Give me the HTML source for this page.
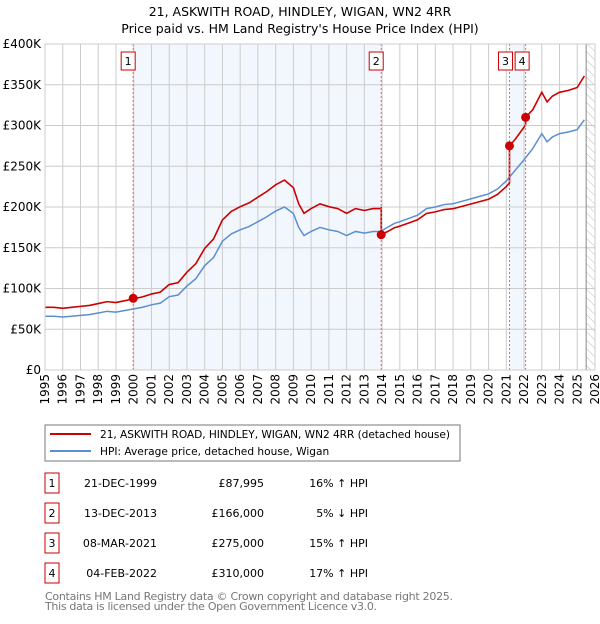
<!DOCTYPE html>
<html><head><meta charset="utf-8"><style>
body{margin:0;background:#fff;font-family:"DejaVu Sans","Liberation Sans",sans-serif;}
svg text{font-family:"DejaVu Sans","Liberation Sans",sans-serif;}
</style></head><body>
<svg id="c" width="600" height="620" xmlns="http://www.w3.org/2000/svg">
<defs><pattern id="hatch" width="6" height="6" patternUnits="userSpaceOnUse" patternTransform="rotate(-45)"><line x1="0" y1="0" x2="0" y2="6" stroke="#bbb" stroke-width="1"/></pattern></defs>
<text x="300" y="16" text-anchor="middle" font-size="12.5">21, ASKWITH ROAD, HINDLEY, WIGAN, WN2 4RR</text>
<text x="300" y="33" text-anchor="middle" font-size="12.5">Price paid vs. HM Land Registry's House Price Index (HPI)</text>
<g id="plot"></g>
<rect x="45" y="425" width="415" height="36" fill="#fff" stroke="#777"/>
<line x1="50" y1="434" x2="91" y2="434" stroke="#cc0000" stroke-width="2"/>
<text x="100" y="438" font-size="10.6" textLength="350">21, ASKWITH ROAD, HINDLEY, WIGAN, WN2 4RR (detached house)</text>
<line x1="50" y1="451" x2="91" y2="451" stroke="#5b8fd0" stroke-width="2"/>
<text x="100" y="455" font-size="10.6">HPI: Average price, detached house, Wigan</text>
<g id="table" font-size="11"></g>
<text x="45" y="600" font-size="11" fill="#777" textLength="408">Contains HM Land Registry data © Crown copyright and database right 2025.</text>
<text x="45" y="610" font-size="11" fill="#777" textLength="332">This data is licensed under the Open Government Licence v3.0.</text>
</svg>
<script>
const hpiYears=[1995,1995.5,1996,1996.5,1997,1997.5,1998,1998.5,1999,1999.5,2000,2000.5,2001,2001.5,2002,2002.5,2003,2003.5,2004,2004.5,2005,2005.5,2006,2006.5,2007,2007.5,2008,2008.5,2009,2009.3,2009.6,2010,2010.5,2011,2011.5,2012,2012.5,2013,2013.5,2013.9,2014.3,2014.7,2015,2015.5,2016,2016.5,2017,2017.5,2018,2018.5,2019,2019.5,2020,2020.5,2021,2021.5,2022,2022.5,2023,2023.3,2023.6,2024,2024.5,2025,2025.4];
const hpiValues=[66,66,65,66,67,68,70,72,71,73,75,77,80,82,90,92,103,112,128,138,158,167,172,176,182,188,195,200,192,175,165,170,175,172,170,165,170,168,170,170,175,180,182,186,190,198,200,203,204,207,210,213,216,222,232,245,258,272,290,280,286,290,292,295,307];
const saleYears=[1999.97,2013.95,2021.18,2022.09];
const salePrices=[87.995,166,275,310];
const saleLabels=["1","2","3","4"];
const saleDates=["21-DEC-1999","13-DEC-2013","08-MAR-2021","04-FEB-2022"];
const salePriceText=["£87,995","£166,000","£275,000","£310,000"];
const saleDiffs=["16% ↑ HPI","5% ↓ HPI","15% ↑ HPI","17% ↑ HPI"];
const segFactors=[1.165,0.97,1.155,1.175];
const yTicks=[0,50,100,150,200,250,300,350,400];
const yTickLabels=["£0","£50K","£100K","£150K","£200K","£250K","£300K","£350K","£400K"];
const xTicks=[1995,1996,1997,1998,1999,2000,2001,2002,2003,2004,2005,2006,2007,2008,2009,2010,2011,2012,2013,2014,2015,2016,2017,2018,2019,2020,2021,2022,2023,2024,2025,2026];

const X0=45,X1=595,Y0=370,Y1=44;
const x=y=>X0+(y-1995)/(2026-1995)*(X1-X0);
const yv=v=>Y0-v/400*(Y0-Y1);
const NS="http://www.w3.org/2000/svg";
const P=document.getElementById('plot');
function mk(t,a,parent){const e=document.createElementNS(NS,t);for(const k in a)e.setAttribute(k,a[k]);(parent||P).appendChild(e);return e;}

let e=mk('rect',{x:X0,y:Y1,width:X1-X0,height:Y0-Y1,fill:'#fff'});


e=mk('rect',{x:x(saleYears[0]),y:Y1,width:x(saleYears[1])-x(saleYears[0]),height:Y0-Y1,fill:'#f2f6fd'});


e=mk('rect',{x:x(saleYears[2]),y:Y1,width:x(saleYears[3])-x(saleYears[2]),height:Y0-Y1,fill:'#f2f6fd'});


e=mk('rect',{x:x(2025.5),y:Y1,width:X1-x(2025.5),height:Y0-Y1,fill:'url(#hatch)'});


xTicks.forEach((t,i)=>{
  e=mk('line',{x1:x(t),x2:x(t),y1:Y1,y2:Y0,stroke:'#ccc','stroke-width':1});
  
  
  e=mk('text',{x:0,y:0,'font-size':12,'text-anchor':'end',transform:`translate(${x(t)+4},${Y0+4}) rotate(-90)`});
  e.textContent=t;
  
  
});
yTicks.forEach((t,i)=>{
  e=mk('line',{x1:X0,x2:X1,y1:yv(t),y2:yv(t),stroke:'#ccc','stroke-width':1});
  
  
  e=mk('text',{x:X0-4,y:yv(t)+4,'font-size':12,'text-anchor':'end'});
  e.textContent=yTickLabels[i];
  
  
});
e=mk('line',{x1:x(2025.5),x2:x(2025.5),y1:Y1,y2:Y0,stroke:'#888','stroke-width':1});



function hpiAt(t){for(let i=1;i<hpiYears.length;i++){if(t<=hpiYears[i]){const f=(t-hpiYears[i-1])/(hpiYears[i]-hpiYears[i-1]);return hpiValues[i-1]+f*(hpiValues[i]-hpiValues[i-1]);}}return hpiValues[hpiValues.length-1];}
let pts=[];
const seg=t=>{let s=-1;for(let i=0;i<saleYears.length;i++)if(t>=saleYears[i])s=i;return s;};
const times=hpiYears.concat(saleYears).sort((a,b)=>a-b);
times.forEach(t=>{
  const s=Math.max(0,seg(t));
  const f=segFactors[s];
  if(saleYears.includes(t)){
    const i=saleYears.indexOf(t);
    const prev=i>0?segFactors[i-1]:segFactors[0];
    pts.push([x(t),yv(hpiAt(t)*prev)]);
    pts.push([x(t),yv(salePrices[i])]);
  } else pts.push([x(t),yv(hpiAt(t)*f)]);
});
e=mk('polyline',{points:hpiYears.map((t,i)=>x(t)+','+yv(hpiValues[i])).join(' '),fill:'none',stroke:'#5b8fd0','stroke-width':1.5});


e=mk('polyline',{points:pts.map(p=>p.join(',')).join(' '),fill:'none',stroke:'#cc0000','stroke-width':1.6});


saleYears.forEach((t,i)=>{
  e=mk('line',{x1:x(t),x2:x(t),y1:Y1,y2:Y0,stroke:'#e66','stroke-width':1,'stroke-dasharray':'2,2'});
  
  
  e=mk('circle',{cx:x(t),cy:yv(salePrices[i]),r:4.5,fill:'#cc0000'});
  
  
  const lx=i===3?x(t)-10.5:i===2?x(t)-11:x(t)-12;
  e=mk('rect',{x:lx,y:52,width:14,height:18,fill:'#fff',stroke:'#cc0000'});
  
  
  e=mk('text',{x:lx+7,y:65,'font-size':11,'text-anchor':'middle'});
  e.textContent=saleLabels[i];
  
  
});
e=mk('rect',{x:X0,y:Y1,width:X1-X0,height:Y0-Y1,fill:'none',stroke:'#ccc'});



const T=document.getElementById('table');
saleLabels.forEach((l,i)=>{
  const cy=483+i*30;
  e=mk('rect',{x:45,y:cy-10,width:14,height:20,fill:'#fff',stroke:'#cc0000'},T);
  
  
  e=mk('text',{x:52,y:cy+4,'text-anchor':'middle'},T);e.textContent=l;
  
  
  e=mk('text',{x:157,y:cy+4,'text-anchor':'end'},T);e.textContent=saleDates[i];
  
  
  e=mk('text',{x:264,y:cy+4,'text-anchor':'end'},T);e.textContent=salePriceText[i];
  
  
  e=mk('text',{x:368,y:cy+4,'text-anchor':'end'},T);e.textContent=saleDiffs[i];
  
  
});
</script>
</body></html>
